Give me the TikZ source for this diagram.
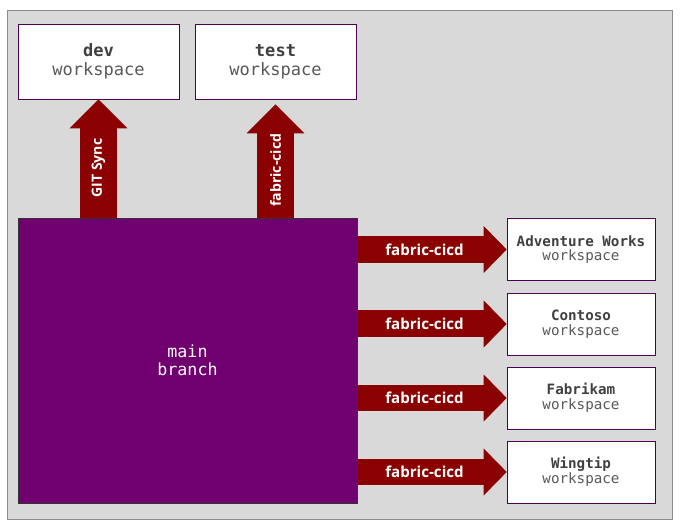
\documentclass[tikz,border=0pt]{standalone}
\usepackage{fontspec}
\setmainfont{Open Sans}
\setmonofont{DejaVu Sans Mono}
\usetikzlibrary{arrows.meta}
\definecolor{bggray}{HTML}{D9D9D9}
\definecolor{framegray}{HTML}{8C8C8C}
\definecolor{boxline}{HTML}{4B0050}
\definecolor{mainpurple}{HTML}{700070}
\definecolor{mainline}{HTML}{333333}
\definecolor{arrowred}{HTML}{8B0000}
\definecolor{titlegray}{HTML}{404040}
\definecolor{wsgray}{HTML}{595959}
\newcommand{\wsname}[1]{\textcolor{titlegray}{\bfseries #1}\\workspace}

\begin{document}
\begin{tikzpicture}[x=0.02cm, y=-0.02cm,
  ws/.style={draw=boxline, fill=white, minimum width=3.22cm, minimum height=1.5cm, align=center, inner sep=0pt, text=wsgray, font=\ttfamily\fontsize{9.7}{10.6}\selectfont},
  smallws/.style={ws, minimum width=2.96cm, minimum height=1.24cm, font=\ttfamily\fontsize{8.1}{8.4}\selectfont},
  uparrow/.style={draw=arrowred, line width=0.76cm, -{Triangle[length=0.58cm, width=1.16cm, line width=0pt]}},
  rightarrow/.style={draw=arrowred, line width=0.54cm, -{Triangle[length=0.46cm, width=0.94cm, line width=0pt]}},
  lbl/.style={text=white, inner sep=0pt, font=\bfseries\fontsize{8.6}{10}\selectfont}]
\useasboundingbox (0,0) rectangle (683,526);
\draw[draw=framegray, fill=bggray] (7,10) rectangle (672,519);

% workspaces
\node[ws] (dev) at (98.5,61.5) {\wsname{dev}};
\node[ws] (test) at (275.5,61.5) {\wsname{test}};
\node[smallws] (aw) at (581,249.5) {\wsname{Adventure Works}};
\node[smallws] (contoso) at (581,324) {\wsname{Contoso}};
\node[smallws] (fabrikam) at (581,398) {\wsname{Fabrikam}};
\node[smallws] (wingtip) at (581,472) {\wsname{Wingtip}};

% branch
\node[draw=mainline, fill=mainpurple, minimum width=6.78cm, minimum height=5.7cm, align=center, text=white, font=\ttfamily\fontsize{9.5}{10.2}\selectfont] (main) at (187.5,360.5) {main\\branch};

% deployments
\draw[uparrow] (dev.south |- main.north) -- (dev.south) node[lbl, pos=0.42, sloped, font=\bfseries\fontsize{8}{10}\selectfont] {GIT Sync};
\draw[uparrow] (test.south |- main.north) -- ([yshift=-0.1cm]test.south) node[lbl, pos=0.42, sloped, font=\bfseries\fontsize{8}{10}\selectfont] {fabric-cicd};
\foreach \n in {aw, contoso, fabrikam, wingtip}
  \draw[rightarrow] (main.east |- \n.west) -- (\n.west) node[lbl, pos=0.45] {fabric-cicd};
\end{tikzpicture}
\end{document}
